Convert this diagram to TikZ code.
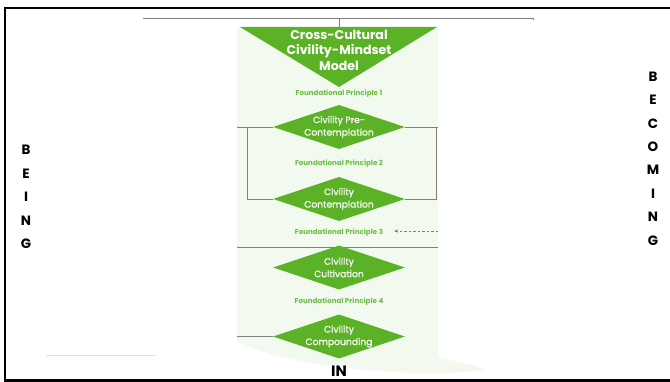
\documentclass[tikz,border=0pt]{standalone}
\usepackage{fontspec}
\setmainfont{Poppins}
\newfontfamily\medfont[FakeBold=0.7]{Poppins}
\usetikzlibrary{shapes.geometric,arrows.meta}
\definecolor{dgreen}{HTML}{5BB226}
\definecolor{lgreen}{HTML}{6CBD45}
\definecolor{panel}{HTML}{F2F9EF}
\definecolor{conn}{HTML}{808080}
\definecolor{faintpink}{HTML}{F7D9DC}
\tikzset{
  dia/.style={shape=diamond, fill=dgreen, draw=none, inner sep=0pt,
    minimum width=132pt, minimum height=44pt},
  diatext/.style={text=white, font=\medfont\fontsize{9.2}{12.5}\selectfont, align=center},
  fp/.style={text=lgreen, font=\bfseries\fontsize{7.1}{8}\selectfont, inner sep=0pt},
  side/.style={font=\bfseries\fontsize{13.5}{23.4}\selectfont, align=center, inner sep=0pt},
  conn/.style={draw=conn, line width=0.9pt},
  frame/.style={line width=2.4pt, black}
}
\begin{document}
\begin{tikzpicture}[x=1pt,y=-1pt]
\useasboundingbox (0,0) rectangle (670,382);
% background panel
\fill[panel] (237,27) -- (438,27) -- (438,358)
  .. controls (460,362) and (475,366) .. (488,370)
  .. controls (420,378) and (300,370) .. (237,342) -- cycle;
% frame
\draw[frame] (4,8) -- (670,8);
\draw[frame] (5,8) -- (5,381);
\draw[frame] (4,380.5) -- (670,380.5);
% top line
\coordinate (tl) at (143,18.5);
\coordinate (tr) at (533,18.5);
\coordinate (tri) at (339,27);
\draw[conn] (tl) -- (tr);
\draw[conn] (tr) -- ++(0,2);
\draw[conn] (tri) -- (tri |- tl);
% triangle
\fill[dgreen] (240,27) -- (437,27) -- (339,87) -- cycle;
\node[text=white, font=\bfseries\fontsize{12.6}{15.5}\selectfont, align=center] (title) at (339,50)
  {Cross-Cultural\\Civility-Mindset\\Model};
% line behind diamond 3
\coordinate (L3) at (237,247);
\coordinate (R3) at (438,247);
\draw[conn] (L3) -- (R3);
% diamonds
\node[dia, label={[diatext]center:Civility Pre-\\Contemplation}] (d1) at (339,127) {};
\node[dia, label={[diatext]center:Civility\\Contemplation}] (d2) at (339,199) {};
\node[dia, label={[diatext]center:Civility\\Cultivation}] (d3) at (339,267.5) {};
\node[dia, label={[diatext]center:Civility\\Compounding}] (d4) at (339,336.5) {};
% principles
\node[fp] (fp1) at (339,93.5) {Foundational Principle 1};
\node[fp] (fp2) at (339,164) {Foundational Principle 2};
\node[fp] (fp3) at (339,232.5) {Foundational Principle 3};
\node[fp] (fp4) at (339,302) {Foundational Principle 4};
% connectors around d1, d2
\coordinate (L1) at (237,127);
\coordinate (LV) at (247,127);
\coordinate (R1) at (438,127);
\coordinate (RV) at (436.5,127);
\draw[conn] (L1) -- (d1.west);
\draw[conn] (d1.east) -- (R1);
\draw[conn] (LV) |- (d2.west);
\draw[conn] (RV) |- (d2.east);
% dashed arrow
\coordinate (da) at (438,231);
\coordinate (db) at (394,231);
\draw[conn, line width=0.6pt, dash pattern=on 2.5pt off 2pt, -{Stealth[length=4pt,width=3.2pt]}] (da) -- (db);
% line to d4
\coordinate (L4) at (237,336.5);
\draw[conn] (L4) -- (d4.west);
% faint pink line
\coordinate (p1) at (46,355);
\coordinate (p2) at (156,355);
\draw[faintpink, line width=0.8pt] (p1) -- (p2);
% IN
\node[font=\bfseries\fontsize{15}{15}\selectfont, inner sep=0pt] (in) at (339,371.5) {IN};
% side words
\node[side] (being) at (26,197) {B\\E\\I\\N\\G};
\node[side] (becoming) at (653,158.5) {B\\E\\C\\O\\M\\I\\N\\G};
\end{tikzpicture}
\end{document}
